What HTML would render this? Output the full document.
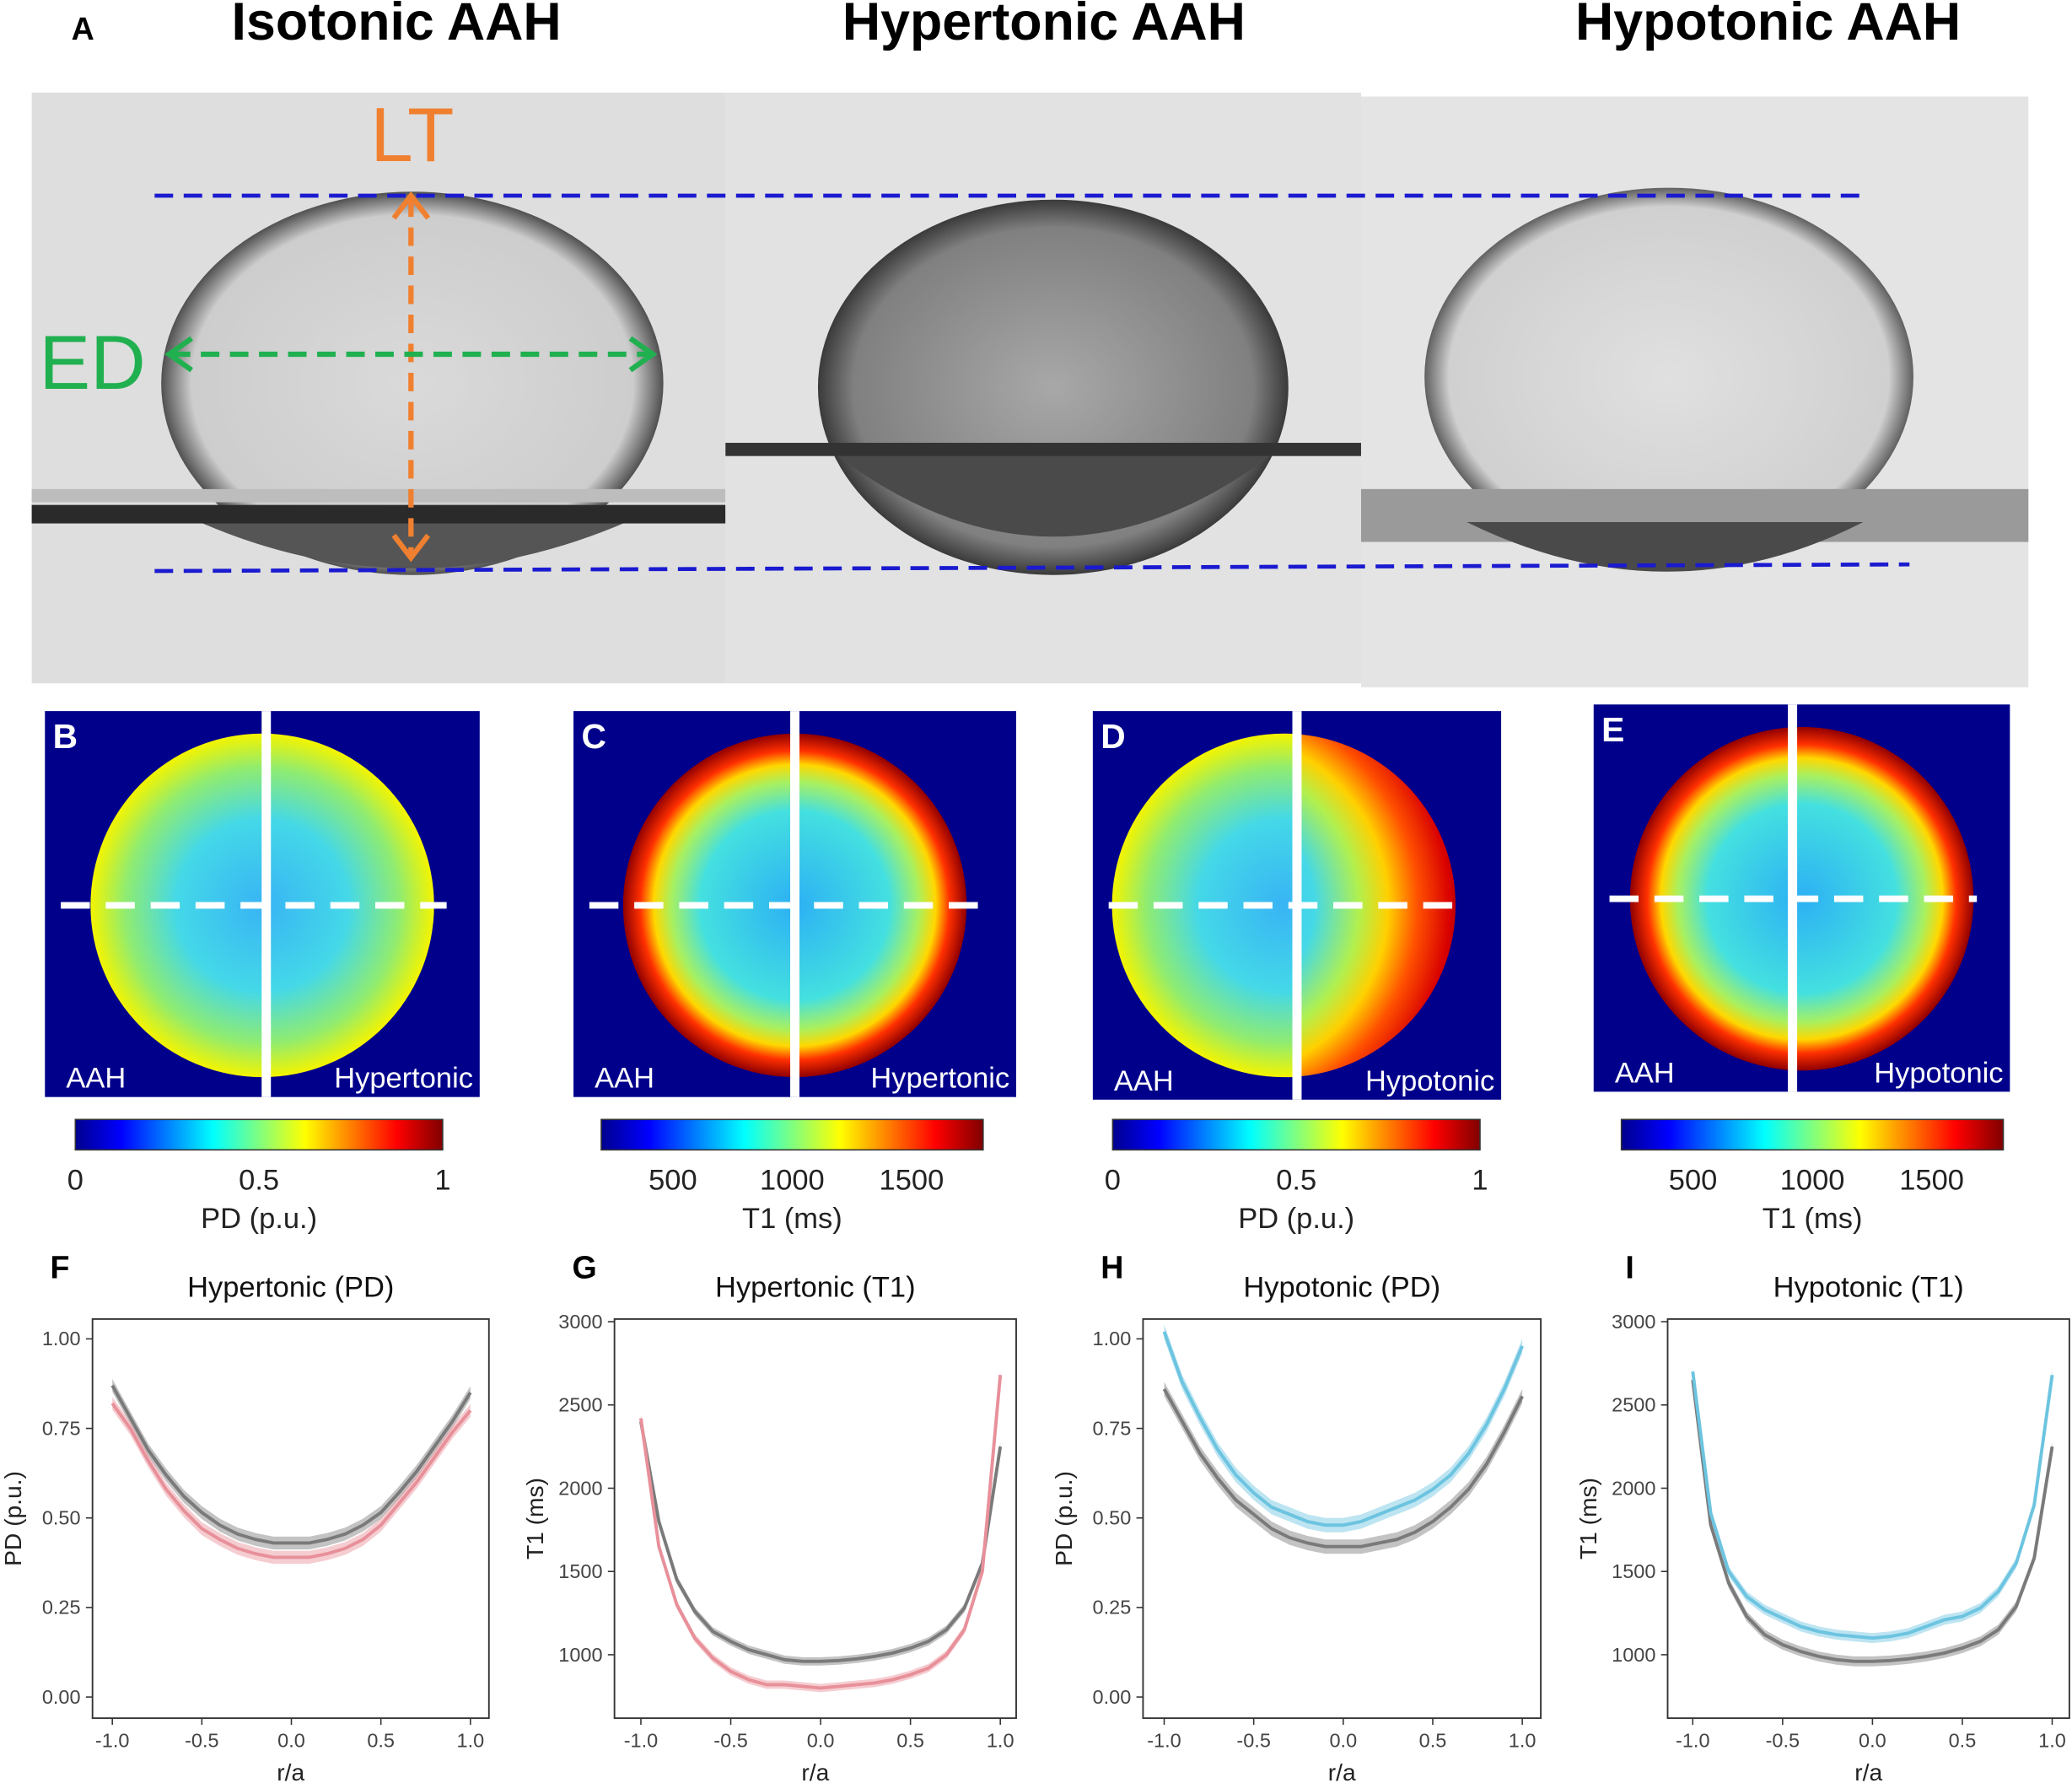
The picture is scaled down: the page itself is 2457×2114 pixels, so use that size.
<!DOCTYPE html>
<html><head><meta charset="utf-8"><style>
html,body{margin:0;padding:0;background:#fff}
svg{display:block}
text{font-family:"Liberation Sans",Arial,sans-serif}
</style></head><body>
<svg id="fig" width="2457" height="2114" viewBox="0 0 1568 1349" xmlns="http://www.w3.org/2000/svg">
<defs>
<linearGradient id="jet" x1="0" x2="1" y1="0" y2="0">
<stop offset="0" stop-color="#00008f"/><stop offset="0.125" stop-color="#0000ff"/><stop offset="0.375" stop-color="#00ffff"/><stop offset="0.625" stop-color="#ffff00"/><stop offset="0.875" stop-color="#ff0000"/><stop offset="1" stop-color="#800000"/>
</linearGradient>
<radialGradient id="pdg"><stop offset="0" stop-color="#38b4f4"/><stop offset="0.5" stop-color="#44d8e8"/><stop offset="0.8" stop-color="#90ec70"/><stop offset="1" stop-color="#f4f400"/></radialGradient>
<radialGradient id="pdh" cx="0.3" cy="0.5" r="0.72" fx="0.3" fy="0.5"><stop offset="0" stop-color="#38b4f4"/><stop offset="0.4" stop-color="#44d8e8"/><stop offset="0.58" stop-color="#b0f050"/><stop offset="0.7" stop-color="#ffd000"/><stop offset="0.82" stop-color="#ff5000"/><stop offset="0.95" stop-color="#d80000"/><stop offset="1" stop-color="#b00000"/></radialGradient>
<radialGradient id="t1g"><stop offset="0" stop-color="#2cb0f4"/><stop offset="0.55" stop-color="#44e0e0"/><stop offset="0.72" stop-color="#a8f060"/><stop offset="0.82" stop-color="#ffd800"/><stop offset="0.9" stop-color="#ff3000"/><stop offset="1" stop-color="#900000"/></radialGradient>
<radialGradient id="drop1"><stop offset="0" stop-color="#dadada"/><stop offset="0.88" stop-color="#cdcdcd"/><stop offset="1" stop-color="#505050"/></radialGradient>
<radialGradient id="drop2"><stop offset="0" stop-color="#a8a8a8"/><stop offset="0.85" stop-color="#808080"/><stop offset="1" stop-color="#3a3a3a"/></radialGradient>
<radialGradient id="drop3"><stop offset="0" stop-color="#e0e0e0"/><stop offset="0.9" stop-color="#d0d0d0"/><stop offset="1" stop-color="#606060"/></radialGradient>
</defs>

<text x="54" y="30" font-size="24" font-weight="bold">A</text>
<text x="300" y="30" font-size="40" font-weight="bold" text-anchor="middle">Isotonic AAH</text>
<text x="790" y="30" font-size="40" font-weight="bold" text-anchor="middle">Hypertonic AAH</text>
<text x="1338" y="30" font-size="40" font-weight="bold" text-anchor="middle">Hypotonic AAH</text>

<g>
<rect x="24" y="70" width="525" height="447" fill="#dedede"/>
<ellipse cx="312" cy="290" rx="190" ry="145" fill="url(#drop1)"/>
<path d="M140,390 Q312,470 485,390 Z" fill="#555"/>
<rect x="24" y="382" width="525" height="14" fill="#2a2a2a"/>
<rect x="24" y="370" width="525" height="10" fill="#bdbdbd"/>
</g>
<g>
<rect x="549" y="70" width="481" height="447" fill="#e2e2e2"/>
<ellipse cx="797" cy="293" rx="178" ry="142" fill="url(#drop2)"/>
<path d="M630,342 Q797,470 965,342 Z" fill="#4a4a4a"/>
<rect x="549" y="335" width="481" height="10" fill="#333"/>
</g>
<g>
<rect x="1030" y="73" width="505" height="447" fill="#e4e4e4"/>
<ellipse cx="1263" cy="285" rx="185" ry="143" fill="url(#drop3)"/>
<rect x="1030" y="370" width="505" height="40" fill="#9a9a9a"/>
<path d="M1110,395 Q1263,470 1410,395 Z" fill="#4a4a4a"/>
</g>
<line x1="117" y1="148" x2="1410" y2="148" stroke="#1a1ad0" stroke-width="3" stroke-dasharray="14,8"/>
<line x1="117" y1="432" x2="1445" y2="427" stroke="#1a1ad0" stroke-width="3" stroke-dasharray="14,8"/>
<g stroke="#f08030" stroke-width="4" fill="none">
<line x1="311" y1="150" x2="311" y2="420" stroke-dasharray="14,8"/>
<polyline points="298,165 311,148 324,165"/><polyline points="298,405 311,422 324,405"/>
</g>
<text x="312" y="122" font-size="58" fill="#f08030" text-anchor="middle">LT</text>
<g stroke="#20b050" stroke-width="4" fill="none">
<line x1="130" y1="268" x2="492" y2="268" stroke-dasharray="14,8"/>
<polyline points="145,256 128,268 145,280"/><polyline points="477,256 494,268 477,280"/>
</g>
<text x="70" y="294" font-size="58" fill="#20b050" text-anchor="middle">ED</text>

<g id="maps"></g>
<g id="charts"></g>
</svg>
<script>
const NS='http://www.w3.org/2000/svg';
function mk(tag,attrs,parent,txt){const e=document.createElementNS(NS,tag);for(const k in attrs)e.setAttribute(k,attrs[k]);if(txt!==undefined)e.textContent=txt;parent.appendChild(e);return e;}
const maps=document.getElementById('maps');
const mapLetters=['B','C','D','E'];
const mapLeftFill=['url(#pdg)','url(#t1g)','url(#pdg)','url(#t1g)'];
const mapRightFill=['url(#pdg)','url(#t1g)','url(#pdh)','url(#t1g)'];
const mapRightLabel=['Hypertonic','Hypertonic','Hypotonic','Hypotonic'];
const mapBoxes=[[34,538,329,292,200],[434,538,335,292,600],[827,538,309,294,980],[1206,533,315,293,1355]];
const cbTitles=['PD (p.u.)','T1 (ms)','PD (p.u.)','T1 (ms)'];
const cbRange=[[0,1],[200,1800],[0,1],[200,1800]];
const cbTicks=[[0,0.5,1],[500,1000,1500],[0,0.5,1],[500,1000,1500]];
const cbBox=[[57,335],[455,744],[842,1120],[1227,1516]];
mapBoxes.forEach((b,i)=>{
  const g=mk('g',{},maps);
  
  
  const [x,y,w,h,split]=b;
  mk('rect',{x:x,y:y,width:w,height:h,fill:'#00008b'},g);
  const cx=x+w/2+ (i==2?-10:0), cy=y+147, r=130;
  const cl='cl'+i,cr='cr'+i;
  const defs=mk('defs',{},g);
  const c1=mk('clipPath',{id:cl},defs);mk('rect',{x:x,y:y,width:split-x,height:h},c1);
  const c2=mk('clipPath',{id:cr},defs);mk('rect',{x:split,y:y,width:x+w-split,height:h},c2);
  mk('circle',{cx:cx,cy:cy,r:r,fill:mapLeftFill[i],'clip-path':'url(#'+cl+')'},g);
  mk('circle',{cx:cx,cy:cy,r:r,fill:mapRightFill[i],'clip-path':'url(#'+cr+')'},g);
  mk('rect',{x:split-2,y:y,width:7,height:h,fill:'#fff'},g);
  mk('line',{x1:x+12,y1:cy,x2:x+w-25,y2:cy,stroke:'#fff','stroke-width':5,'stroke-dasharray':'22,12'},g);
  mk('text',{x:x+6,y:y+28,'font-size':26,'font-weight':'bold',fill:'#fff'},g,mapLetters[i]);
  mk('text',{x:x+16,y:y+h-7,'font-size':22,fill:'#fff'},g,'AAH');
  mk('text',{x:x+w-5,y:y+h-7,'font-size':22,fill:'#fff','text-anchor':'end'},g,mapRightLabel[i]);
  const cb=mk('g',{},maps);
  
  
  const [x0,x1]=cbBox[i];
  mk('rect',{x:x0,y:847,width:x1-x0,height:23,fill:'url(#jet)',stroke:'#333','stroke-width':1},cb);
  cbTicks[i].forEach(t=>{
    const tx=x0+(t-cbRange[i][0])/(cbRange[i][1]-cbRange[i][0])*(x1-x0);
    mk('text',{x:tx,y:900,'font-size':22,'text-anchor':'middle',fill:'#222'},cb,String(t));
  });
  mk('text',{x:(x0+x1)/2,y:929,'font-size':22,'text-anchor':'middle',fill:'#222'},cb,cbTitles[i]);
});

const rVals=[-1,-0.9,-0.8,-0.7,-0.6,-0.5,-0.4,-0.3,-0.2,-0.1,0,0.1,0.2,0.3,0.4,0.5,0.6,0.7,0.8,0.9,1];
const pdAAH_F=[0.87,0.78,0.69,0.62,0.56,0.515,0.48,0.455,0.44,0.43,0.43,0.43,0.44,0.455,0.48,0.515,0.57,0.63,0.70,0.77,0.85];
const pdHyper=[0.82,0.75,0.66,0.58,0.52,0.47,0.44,0.415,0.40,0.39,0.39,0.39,0.40,0.415,0.44,0.48,0.54,0.60,0.67,0.74,0.80];
const pdAAH_H=[0.86,0.77,0.68,0.61,0.55,0.51,0.47,0.445,0.43,0.42,0.42,0.42,0.43,0.44,0.46,0.49,0.53,0.58,0.65,0.74,0.84];
const pdHypo=[1.02,0.88,0.78,0.69,0.62,0.57,0.53,0.51,0.49,0.48,0.48,0.49,0.51,0.53,0.55,0.58,0.62,0.68,0.76,0.86,0.98];
const t1AAH_G=[2400,1800,1450,1260,1140,1080,1030,1000,970,960,960,965,975,990,1010,1040,1080,1150,1280,1550,2250];
const t1Hyper=[2420,1650,1300,1100,980,900,850,820,820,810,800,810,820,830,850,880,920,1000,1150,1500,2680];
const t1AAH_I=[2650,1780,1430,1230,1120,1060,1020,990,970,960,960,965,975,990,1010,1040,1080,1150,1290,1580,2250];
const t1Hypo=[2700,1850,1500,1350,1270,1220,1170,1140,1120,1110,1100,1110,1130,1170,1210,1230,1280,1380,1550,1900,2680];
const pdTicks=['0.00','0.25','0.50','0.75','1.00'];
const t1Ticks=['1000','1500','2000','2500','3000'];
const xTicks=['-1.0','-0.5','0.0','0.5','1.0'];

const charts=document.getElementById('charts');
const chartDefs=[
 {L:'F',title:'Hypertonic (PD)',fx:70,fw:300,xa:85,xb:356,yMin:0,yMax:1,ya:1284,yb:1013,yt:pdTicks,ylab:'PD (p.u.)',s:[[pdAAH_F,'#7a7a7a'],[pdHyper,'#e8909a']],band:0.018},
 {L:'G',title:'Hypertonic (T1)',fx:465,fw:304,xa:485,xb:757,yMin:1000,yMax:3000,ya:1252,yb:1000,yt:t1Ticks,ylab:'T1 (ms)',s:[[t1AAH_G,'#7a7a7a'],[t1Hyper,'#e8909a']],band:25},
 {L:'H',title:'Hypotonic (PD)',fx:865,fw:301,xa:881,xb:1152,yMin:0,yMax:1,ya:1284,yb:1013,yt:pdTicks,ylab:'PD (p.u.)',s:[[pdAAH_H,'#7a7a7a'],[pdHypo,'#6cc4e0']],band:0.02},
 {L:'I',title:'Hypotonic (T1)',fx:1262,fw:304,xa:1281,xb:1553,yMin:1000,yMax:3000,ya:1252,yb:1000,yt:t1Ticks,ylab:'T1 (ms)',s:[[t1AAH_I,'#7a7a7a'],[t1Hypo,'#6cc4e0']],band:30}
];
chartDefs.forEach(c=>{
  const g=mk('g',{},charts);
  
  
  const X=v=>c.xa+(v+1)/2*(c.xb-c.xa);
  const Y=v=>c.ya+(v-c.yMin)/(c.yMax-c.yMin)*(c.yb-c.ya);
  const top=998,bot=1300;
  mk('rect',{x:c.fx,y:top,width:c.fw,height:bot-top,fill:'#fff',stroke:'#333','stroke-width':1.2},g);
  const L=mk('text',{x:c.fx-32,y:967,'font-size':24,'font-weight':'bold'},g,c.L);
  
  
  mk('text',{x:c.fx+c.fw/2,y:981,'font-size':22,'text-anchor':'middle',fill:'#111'},g,c.title);
  c.yt.forEach(t=>{
    const yy=Y(parseFloat(t));
    mk('line',{x1:c.fx-5,y1:yy,x2:c.fx,y2:yy,stroke:'#333'},g);
    mk('text',{x:c.fx-9,y:yy+5,'font-size':15,'text-anchor':'end',fill:'#444'},g,t);
  });
  xTicks.forEach(t=>{
    const xx=X(parseFloat(t));
    mk('line',{x1:xx,y1:bot,x2:xx,y2:bot+5,stroke:'#333'},g);
    mk('text',{x:xx,y:bot+22,'font-size':15,'text-anchor':'middle',fill:'#444'},g,t);
  });
  mk('text',{x:c.fx+c.fw/2,y:bot+47,'font-size':18,'text-anchor':'middle',fill:'#222'},g,'r/a');
  mk('text',{x:0,y:0,'font-size':18,'text-anchor':'middle',fill:'#222',transform:'translate('+(c.fx-54)+','+((top+bot)/2)+') rotate(-90)'},g,c.ylab);
  c.s.forEach((sr,k)=>{
    const [vals,col]=sr;
    const up=vals.map((v,i)=>X(rVals[i])+','+Y(v+c.band)).join(' ');
    const dn=vals.map((v,i)=>X(rVals[i])+','+Y(v-c.band)).reverse().join(' ');
    const band=mk('polygon',{points:up+' '+dn,fill:col,'fill-opacity':0.45},g);
    
    
    const pl=mk('polyline',{points:vals.map((v,i)=>X(rVals[i])+','+Y(v)).join(' '),fill:'none',stroke:col,'stroke-width':2.5},g);
    
    
  });
});
</script>
</body></html>
